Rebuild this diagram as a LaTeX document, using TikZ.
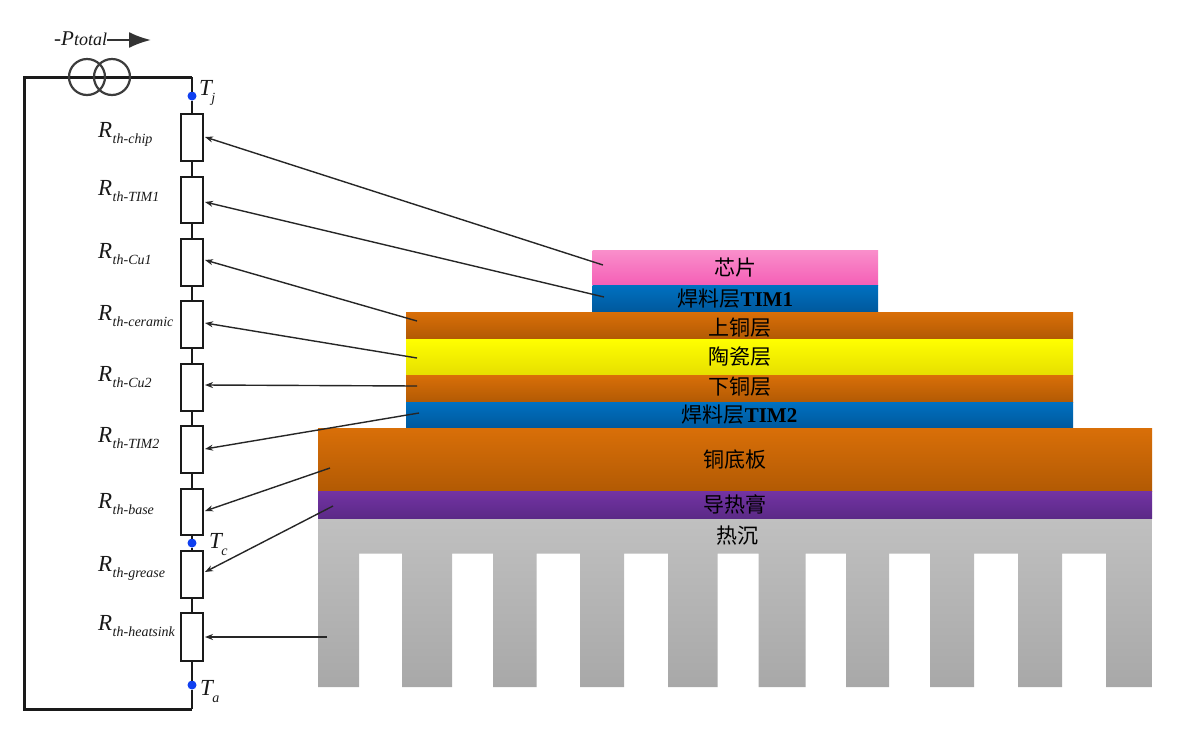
\documentclass[tikz,border=0pt]{standalone}
\usepackage{fontspec}
\setmainfont{Liberation Serif}
\newfontfamily\cjkf{Noto Sans CJK SC}
\usetikzlibrary{arrows.meta}
\definecolor{pinkT}{HTML}{F98FCB}
\definecolor{pinkB}{HTML}{F55FB6}
\definecolor{blueT}{HTML}{0071C1}
\definecolor{blueB}{HTML}{00589C}
\definecolor{orangeT}{HTML}{D96F08}
\definecolor{orangeB}{HTML}{B25A04}
\definecolor{yellowT}{HTML}{FFFF00}
\definecolor{yellowB}{HTML}{E6DF00}
\definecolor{purpleT}{HTML}{7333A3}
\definecolor{purpleB}{HTML}{5B2A87}
\definecolor{greyT}{HTML}{C0C0C0}
\definecolor{greyB}{HTML}{A8A8A8}
\definecolor{wireC}{HTML}{1A1A1A}
\definecolor{dotC}{HTML}{1040F0}
\newcommand{\cjktxt}[1]{{\fontsize{21}{21}\selectfont\cjkf #1}}
\newcommand{\bftxt}[1]{{\fontsize{21}{21}\selectfont\bfseries #1}}
\newcommand{\Rlab}[1]{{\fontsize{23}{23}\selectfont\itshape R\kern0.5pt\raisebox{-6pt}{\fontsize{14}{14}\selectfont #1}}}
\newcommand{\Tlab}[1]{{\fontsize{23}{23}\selectfont\itshape T\kern-0.5pt\raisebox{-7pt}{\fontsize{14}{14}\selectfont #1}}}
\tikzset{
  layer/.style={rectangle,inner sep=0pt,outer sep=0pt,text=black,align=center},
  res/.style={rectangle,draw=wireC,line width=2.4pt,fill=white,minimum width=21.5pt,inner sep=0pt,outer sep=0pt},
  wire/.style={draw=wireC,line width=2.4pt,line join=miter},
  loopwire/.style={draw=wireC,line width=3pt,line join=miter},
  src/.style={circle,draw=wireC!85,line width=2.2pt,minimum size=36pt,inner sep=0pt},
  tnode/.style={circle,fill=dotC,inner sep=0pt,minimum size=9pt,outer sep=0pt},
  lab/.style={anchor=base west,inner sep=0pt,text=black!90},
  link/.style={draw=black!85,line width=1.4pt,-{Stealth[length=8pt,width=6pt]}},
  bigarrow/.style={draw=black!80,line width=2.2pt,-{Latex[length=22pt,width=16pt]}}
}
\begin{document}
\begin{tikzpicture}[x=1pt,y=-1pt]
\path[use as bounding box,fill=white] (0,0) rectangle (1200,732);

% heatsink
\shade[top color=greyT,bottom color=greyB,shading angle=0]
 (318,518) -- (1152,518) -- (1152,687) -- (1106,687) -- (1106,553.5) -- (1062,553.5) -- (1062,687)
 -- (1018,687) -- (1018,553.5) -- (974,553.5) -- (974,687)
 -- (930,687) -- (930,553.5) -- (889,553.5) -- (889,687)
 -- (846,687) -- (846,553.5) -- (805.5,553.5) -- (805.5,687)
 -- (758.5,687) -- (758.5,553.5) -- (717.5,553.5) -- (717.5,687)
 -- (668,687) -- (668,553.5) -- (624,553.5) -- (624,687)
 -- (580,687) -- (580,553.5) -- (536.5,553.5) -- (536.5,687)
 -- (493,687) -- (493,553.5) -- (452,553.5) -- (452,687)
 -- (402,687) -- (402,553.5) -- (359,553.5) -- (359,687)
 -- (318,687) -- cycle;
\node[layer] (hs) at (737,536) {\cjktxt{热沉}};

% layers
\node[layer,minimum width=285.5pt,minimum height=35pt,top color=pinkT,bottom color=pinkB] (chip) at (735.25,267.5) {\cjktxt{芯片}};
\node[layer,minimum width=285.5pt,minimum height=27pt,top color=blueT,bottom color=blueB] (tim1) at (735.25,298.5) {\cjktxt{焊料层}\bftxt{TIM1}};
\node[layer,minimum width=667pt,minimum height=27pt,top color=orangeT,bottom color=orangeB] (cu1) at (739.5,325.5) {};
\node[layer,minimum width=667pt,minimum height=36pt,top color=yellowT,bottom color=yellowB] (cer) at (739.5,357) {\cjktxt{陶瓷层}};
\node[layer,minimum width=667pt,minimum height=27pt,top color=orangeT,bottom color=orangeB] (cu2) at (739.5,388.5) {};
\node[layer,minimum width=667pt,minimum height=26pt,top color=blueT,bottom color=blueB] (tim2) at (739.5,415) {\cjktxt{焊料层}\bftxt{TIM2}};
\node[layer,minimum width=834pt,minimum height=63pt,top color=orangeT,bottom color=orangeB] (base) at (735,459.5) {\cjktxt{铜底板}};
\node[layer,minimum width=834pt,minimum height=26.5pt,top color=purpleT,bottom color=purpleB] (gr) at (735,504.75) {\cjktxt{导热膏}};
\node[layer] (cu1t) at (740,328) {\cjktxt{上铜层}};
\node[layer] (cu2t) at (740,387) {\cjktxt{下铜层}};

% circuit
\node[res,minimum height=47pt] (R1) at (192,137.5) {};
\node[res,minimum height=46pt] (R2) at (192,200) {};
\node[res,minimum height=47pt] (R3) at (192,262.5) {};
\node[res,minimum height=47pt] (R4) at (192,324.5) {};
\node[res,minimum height=47pt] (R5) at (192,387.5) {};
\node[res,minimum height=47pt] (R6) at (192,449.5) {};
\node[res,minimum height=46pt] (R7) at (192,512) {};
\node[res,minimum height=47pt] (R8) at (192,574.5) {};
\node[res,minimum height=48pt] (R9) at (192,637) {};
\node[tnode] (Tj) at (192,96) {};
\node[tnode] (Tc) at (192,543) {};
\node[tnode] (Ta) at (192,685) {};
\coordinate (cTL) at (24,77);
\coordinate (cTR) at (192,77);
\coordinate (cBR) at (192,709);
\coordinate (cBL) at (24,709);
\draw[loopwire] (cTR) -- (cTL) -- (cBL) -- (cBR);
\draw[wire] (cTR) -- (Tj);
\draw[wire] (Tj) -- (R1);
\draw[wire] (R1) -- (R2);
\draw[wire] (R2) -- (R3);
\draw[wire] (R3) -- (R4);
\draw[wire] (R4) -- (R5);
\draw[wire] (R5) -- (R6);
\draw[wire] (R6) -- (R7);
\draw[wire] (R7) -- (Tc);
\draw[wire] (Tc) -- (R8);
\draw[wire] (R8) -- (R9);
\draw[wire] (R9) -- (Ta);
\draw[wire] (Ta) -- (cBR);
\node[src] (s1) at (87,77) {};
\node[src] (s2) at (112,77) {};

% labels
\node[lab] (l1) at (98,137) {\Rlab{th-chip}};
\node[lab] (l2) at (98,195) {\Rlab{th-TIM1}};
\node[lab] (l3) at (98,258) {\Rlab{th-Cu1}};
\node[lab] (l4) at (98,320) {\Rlab{th-ceramic}};
\node[lab] (l5) at (98,381) {\Rlab{th-Cu2}};
\node[lab] (l6) at (98,442) {\Rlab{th-TIM2}};
\node[lab] (l7) at (98,508) {\Rlab{th-base}};
\node[lab] (l8) at (98,571) {\Rlab{th-grease}};
\node[lab] (l9) at (98,630) {\Rlab{th-heatsink}};
\node[lab] (lj) at (199,95) {\Tlab{j}};
\node[lab] (lc) at (209,548) {\Tlab{c}};
\node[lab] (la) at (200,695) {\Tlab{a}};
\node[lab] (ptot) at (54,45) {{\itshape\fontsize{21}{21}\selectfont -P\fontsize{18}{18}\selectfont total}};
\coordinate (pS) at (107,40);
\coordinate (pE) at (151,40);
\draw[bigarrow] (pS) -- (pE);

% link ends
\coordinate (e1) at (603,265);
\coordinate (e2) at (604,297);
\coordinate (e3) at (417,321);
\coordinate (e4) at (417,358);
\coordinate (e5) at (417,386);
\coordinate (e6) at (419,413);
\coordinate (e7) at (330,468);
\coordinate (e8) at (333,506);
\coordinate (e9) at (327,637);
\coordinate (t1) at (205,137);
\coordinate (t2) at (205,202);
\coordinate (t3) at (205,260);
\coordinate (t4) at (205,323);
\coordinate (t5) at (205,385);
\coordinate (t6) at (205,449);
\coordinate (t7) at (205,511);
\coordinate (t8) at (205,572);
\coordinate (t9) at (205,637);
\draw[link] (e1) -- (t1);
\draw[link] (e2) -- (t2);
\draw[link] (e3) -- (t3);
\draw[link] (e4) -- (t4);
\draw[link] (e5) -- (t5);
\draw[link] (e6) -- (t6);
\draw[link] (e7) -- (t7);
\draw[link] (e8) -- (t8);
\draw[link] (e9) -- (t9);
\end{tikzpicture}
\end{document}
